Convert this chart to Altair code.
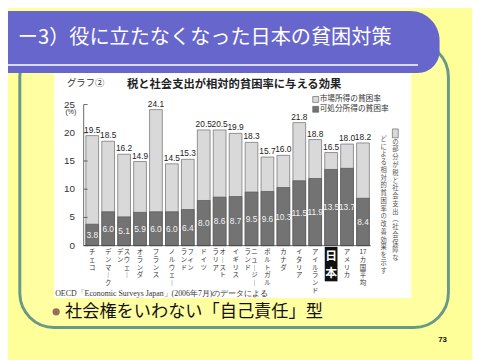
import altair as alt
import pandas as pd

# ---------------- data ----------------
countries = ["チェコ", "デンマーク", "スウェーデン", "オランダ", "フランス", "ノルウェー",
             "フィンランド", "ドイツ", "オーストラリア", "イギリス", "ニュージーランド",
             "ポルトガル", "カナダ", "イタリア", "アイルランド", "日本", "アメリカ", "17カ国平均"]
market = [19.5, 18.5, 16.2, 14.9, 24.1, 14.5, 15.3, 20.5, 20.5, 19.9, 18.3, 15.7,
          16.0, 21.8, 18.8, 16.5, 18.0, 18.2]
disposable = [3.8, 6.0, 5.1, 5.9, 6.0, 6.0, 6.4, 8.0, 8.6, 8.7, 9.5, 9.6,
              10.3, 11.5, 11.9, 13.5, 13.7, 8.4]
# vertical labels: right column / left column
label_right = ["チェコ", "デンマ｜ク", "スウェ｜", "オランダ", "フランス", "ノルウェ｜",
               "フィン", "ドイツ", "オ｜スト", "イギリス", "ニュ｜ジ｜",
               "ポルトガル", "カナダ", "イタリア", "アイルランド", "日本", "アメリカ", "17カ国平均"]
label_left = ["", "", "デン", "", "", "", "ランド", "", "ラリア", "", "ランド",
              "", "", "", "", "", "", ""]
y_ticks = [0, 5, 10, 15, 20, 25]
note_right = "の部分が税と社会支出︵社会保障な"
note_left = "どによる相対的貧困率の改善効果を示す"

JP = "Noto Sans CJK JP"


def tokens(s):
    out, buf = [], ""
    for ch in s:
        if ch.isascii() and ch.isdigit():
            buf += ch
        else:
            if buf:
                out.append(buf)
                buf = ""
            out.append(ch)
    if buf:
        out.append(buf)
    return out


df = pd.DataFrame({"country": countries, "market": market, "disposable": disposable})
df["half"] = df["disposable"] / 2
df["mlabel"] = df["market"].map(lambda v: f"{v:.1f}")
df["dlabel"] = df["disposable"].map(lambda v: f"{v:.1f}")

rows = []
for c, r, l in zip(countries, label_right, label_left):
    if c == "日本":
        kind_r = "japan"
    elif l:
        kind_r = "right"
    else:
        kind_r = "single"
    for i, t in enumerate(tokens(r)):
        rows.append({"country": c, "kind": kind_r, "i": i, "ch": t})
    for i, t in enumerate(tokens(l)):
        rows.append({"country": c, "kind": "left", "i": i, "ch": t})
xl_df = pd.DataFrame(rows)

note_rows = [{"col": "r", "i": i, "ch": t} for i, t in enumerate(tokens(note_right))] + \
            [{"col": "l", "i": i, "ch": t} for i, t in enumerate(tokens(note_left))]
note_df = pd.DataFrame(note_rows)

ticks_df = pd.DataFrame({"v": y_ticks})
ticks_df["lab"] = ticks_df["v"].astype(str)

one = pd.DataFrame({"a": [0]})

# scales (chart coordinates = screen - 8)
xscale = alt.Scale(domain=countries, range=[77.6, 369.2], paddingInner=0.2, paddingOuter=0.1)
yscale = alt.Scale(domain=[0, 25], range=[238.7, 95.2], nice=False, zero=True)
X = alt.X("country:N", scale=xscale, axis=None)


def ytype(field):
    return alt.Y(field, type="quantitative", scale=yscale, axis=None)


def line_scale(top, step):
    return alt.Y("i:Q", scale=alt.Scale(domain=[0, 1], range=[top, top + step], zero=False,
                                        nice=False), axis=None)


def dtext(text, x, y, size, color="#222", align="left", baseline="middle", font=JP,
          weight="normal", **kw):
    return alt.Chart(one).mark_text(text=text, align=align, baseline=baseline, fontSize=size,
                                    color=color, font=font, fontWeight=weight, **kw).encode(
        x=alt.value(x), y=alt.value(y))


def drect(x, x2, y, y2, **kw):
    return alt.Chart(one).mark_rect(**kw).encode(
        x=alt.value(x), x2=alt.value(x2), y=alt.value(y), y2=alt.value(y2))


# ---------------- decorations ----------------
frame = drect(12, 448, 32, 322, fill="#FFFFA2", stroke="#669988", strokeWidth=3, cornerRadius=35)
chartbox = drect(47, 410, 58, 292, fill="#FFFFFF")
banner = drect(0, 439, 0, 63, fill="#6666CC", cornerRadiusTopRight=30, cornerRadiusBottomRight=22)
wline = alt.Chart(one).mark_rule(color="white", strokeWidth=1.5).encode(
    x=alt.value(0), x2=alt.value(417), y=alt.value(55))
title = dtext("ー3）役に立たなくなった日本の貧困対策", 10, 28, 20.5, color="white")

graph_no = dtext("グラフ②", 60, 73, 9.5, color="#333")
ctitle = dtext("税と社会支出が相対的貧困率に与える効果", 230, 75.5, 11.5, align="center",
               weight="bold", color="#222")

leg_box1 = drect(310, 316, 87, 93, fill="#D9D9D9", stroke="#555", strokeWidth=0.6)
leg_box2 = drect(310, 316, 97, 103, fill="#737373", stroke="#555", strokeWidth=0.6)
leg_t1 = dtext("市場所得の貧困率", 317, 90, 7.8, color="#333")
leg_t2 = dtext("可処分所得の貧困率", 317, 100, 7.8, color="#333")

# ---------------- axis ----------------
axis_line = alt.Chart(one).mark_rule(color="#444", strokeWidth=0.8).encode(
    x=alt.value(77), y=alt.Y(datum=0, type="quantitative", scale=yscale, axis=None),
    y2=alt.datum(25))
base_line = alt.Chart(one).mark_rule(color="#444", strokeWidth=0.8).encode(
    x=alt.value(77), x2=alt.value(369),
    y=alt.Y(datum=0, type="quantitative", scale=yscale, axis=None))
tick_marks = alt.Chart(ticks_df).mark_rule(color="#444", strokeWidth=0.8).encode(
    x=alt.value(77), x2=alt.value(81), y=ytype("v"))
tick_labels = alt.Chart(ticks_df).mark_text(align="right", baseline="middle", fontSize=10,
                                            color="#333", font="Liberation Sans").encode(
    x=alt.value(68), y=ytype("v"), text="lab:N")
pct = dtext("(%)", 64, 103, 7, align="center", color="#333", font="Liberation Sans")

# ---------------- bars ----------------
bars_m = alt.Chart(df).mark_bar(fill="#D9D9D9", stroke="#6A6A6A", strokeWidth=0.7).encode(
    x=X, y=ytype("market"))
bars_d = alt.Chart(df).mark_bar(fill="#737373", stroke="#555", strokeWidth=0.7).encode(
    x=X, y=ytype("disposable"))
lab_m = alt.Chart(df).mark_text(baseline="bottom", dy=-1, fontSize=8.5, color="#222",
                                font="Liberation Sans").encode(
    x=X, y=ytype("market"), text="mlabel:N")
lab_d = alt.Chart(df).mark_text(baseline="middle", fontSize=8.5, color="#F2F2F2",
                                font="Liberation Sans").encode(
    x=X, y=ytype("half"), text="dlabel:N")

# ---------------- x labels (vertical, one glyph per row) ----------------
LS = dict(baseline="middle", fontSize=6.5, color="#333", font=JP)
YL = line_scale(245, 8.0)
xl_single = alt.Chart(xl_df).transform_filter("datum.kind == 'single'").mark_text(**LS).encode(
    x=X, y=YL, text="ch:N")
xl_right = alt.Chart(xl_df).transform_filter("datum.kind == 'right'").mark_text(dx=3, **LS).encode(
    x=X, y=YL, text="ch:N")
xl_left = alt.Chart(xl_df).transform_filter("datum.kind == 'left'").mark_text(dx=-4, **LS).encode(
    x=X, y=YL, text="ch:N")
jp_box = alt.Chart(df).transform_filter("datum.country == '日本'").mark_rect(fill="#111").encode(
    x=X, y=alt.value(240), y2=alt.value(275))
jp_text = alt.Chart(xl_df).transform_filter("datum.kind == 'japan'").mark_text(
    baseline="middle", fontSize=12, color="white", font=JP, fontWeight="bold").encode(
    x=X, y=line_scale(249, 18), text="ch:N")

# ---------------- annotation ----------------
ann_box = drect(391, 397, 120, 129, fill="#D9D9D9", stroke="#555", strokeWidth=0.6)
ann_r = alt.Chart(note_df).transform_filter("datum.col == 'r'").mark_text(
    baseline="middle", align="center", fontSize=6.4, color="#555", font=JP).encode(
    x=alt.value(394), y=line_scale(133, 7.9), text="ch:N")
ann_l = alt.Chart(note_df).transform_filter("datum.col == 'l'").mark_text(
    baseline="middle", align="center", fontSize=6.4, color="#555", font=JP).encode(
    x=alt.value(382), y=line_scale(130, 7.9), text="ch:N")

source = dtext("OECD「Economic Surveys Japan」(2006年7月)のデータによる", 48, 288, 8,
               color="#333", font="Liberation Serif")

bullet = alt.Chart(one).mark_point(filled=True, color="#9B6B5A", size=55, opacity=1).encode(
    x=alt.value(49), y=alt.value(306))
bullet_text = dtext("社会権をいわない「自己責任」型", 58, 306, 17.5, color="#111")
page_no = dtext("73", 442, 335, 8, align="center", weight="bold", color="#111",
                font="Liberation Sans")

chart = alt.layer(
    frame, chartbox, banner, wline, title, graph_no, ctitle,
    leg_box1, leg_box2, leg_t1, leg_t2,
    bars_m, bars_d, axis_line, base_line, tick_marks, tick_labels, pct,
    lab_m, lab_d, xl_single, xl_right, xl_left, jp_box, jp_text,
    ann_box, ann_r, ann_l, source, bullet, bullet_text, page_no,
).resolve_scale(y="independent").properties(
    width=472, height=352,
    autosize=alt.AutoSizeParams(type="none"),
    padding=0,
    background="#FFFF99",
).configure_view(stroke=None)

chart.save("out.html", embed_options={"renderer": "svg", "actions": False})
